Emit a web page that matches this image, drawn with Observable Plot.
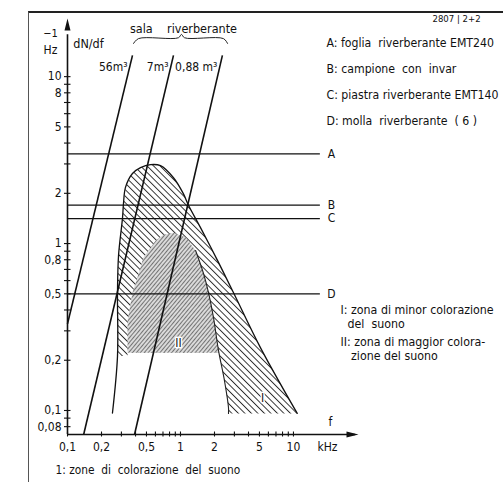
<!DOCTYPE html>
<html>
<head>
<meta charset="utf-8">
<script src="https://cdn.jsdelivr.net/npm/d3@7"></script>
<script src="https://cdn.jsdelivr.net/npm/@observablehq/plot@0.6"></script>
<style>
  body { margin: 0; background: white; }
  #wrap { position: relative; width: 503px; height: 482px; overflow: hidden; background: white; }
  #frame { position: absolute; left: 28px; top: 11px; right: -5px; bottom: -5px;
           border-top: 2px solid #222; border-left: 1.5px solid #555; }
  #chart { position: absolute; left: 0; top: 0; }
</style>
</head>
<body>
<div id="wrap"><div id="frame"></div><div id="chart"></div></div>
<script>
// ---- axis ticks / labels ----
const xTicks = [0.1,0.2,0.3,0.4,0.5,0.6,0.7,0.8,0.9,1,2,3,4,5,6,7,8,9,10];
const xTickLabels = [0.1,0.2,0.5,1,2,5,10];
const yTicks = [0.08,0.09,0.1,0.2,0.3,0.4,0.5,0.6,0.7,0.8,0.9,1,2,3,4,5,6,7,8,9,10];
const yTickLabels = [10,8,5,2,1,0.8,0.5,0.2,0.1,0.08];

// ---- reference devices (horizontal lines) ----
const refNames = ["A","B","C","D"];
const refValues = [3.45, 1.70, 1.41, 0.5];
const legendTexts = [
  "A: foglia  riverberante EMT240",
  "B: campione  con  invar",
  "C: piastra riverberante EMT140",
  "D: molla  riverberante  ( 6 )"
];

// ---- room lines (dN/df for rooms) ----
const roomNames = ["56m³", "7m³", "0,88 m³"];
const roomF0 = [0.1, 0.139, 0.392];
const roomD0 = [0.33, 0.0718, 0.0718];
const roomF1 = [0.376, 0.867, 2.35];
const roomD1 = [13.4, 13.4, 13.4];

// ---- zone I outer boundary ----
const zoneIOuterF = [0.25, 0.277, 0.277, 0.283, 0.307, 0.313, 0.326, 0.376, 0.443, 0.543, 0.665, 0.867, 1.06, 1.18, 1.50, 2.13, 2.94, 5.10, 10.8];
const zoneIOuterD = [0.0966, 0.211, 0.51, 0.85, 1.43, 1.74, 2.17, 2.63, 2.85, 2.97, 2.93, 2.48, 1.99, 1.69, 1.25, 0.79, 0.509, 0.238, 0.096];
// inner boundary of lower part of zone I (continuation of zone II right edge)
const zoneIInnerF = [1.36, 1.60, 1.77, 1.96, 2.17, 2.45, 2.66, 2.66];
const zoneIInnerD = [0.908, 0.661, 0.509, 0.36, 0.229, 0.151, 0.104, 0.096];
// ---- zone II ----
const zoneIIF = [0.340, 0.340, 0.376, 0.416, 0.470, 0.601, 0.707, 0.867, 1.11, 1.36, 1.60, 1.77, 1.96, 2.17, 2.2];
const zoneIID = [0.222, 0.346, 0.509, 0.626, 0.824, 1.04, 1.13, 1.16, 1.09, 0.908, 0.661, 0.509, 0.36, 0.229, 0.222];

// bracket over "sala riverberante"
const braceF = [0.384, 0.425, 0.96, 1.02, 1.085, 2.40, 2.61];
const braceD = [15.8, 16.9, 17.1, 17.9, 17.1, 16.9, 15.8];

const zip = (fs, ds) => fs.map((f, i) => ({f, d: ds[i]}));
const fmt = v => String(v).replace(".", ",");

const zoneIPoly = [
  ...zip(zoneIOuterF.slice(1), zoneIOuterD.slice(1)),
  ...zip(zoneIInnerF.slice(4).reverse(), zoneIInnerD.slice(4).reverse()),
  {f: 2.2, d: 0.222}, {f: 0.34, d: 0.222}, {f: 0.34, d: 0.213}, {f: 0.277, d: 0.211}
];
const zoneII = zip(zoneIIF, zoneIID);
const refs = refNames.map((n, i) => ({n, v: refValues[i]}));
const rooms = roomNames.map((n, i) => ({n, f0: roomF0[i], d0: roomD0[i], f1: roomF1[i], d1: roomD1[i]}));

const xMin = 0.1, xMax = 39.2, yMin = 0.0718, yMax = 22.3;
const refEnd = 17.3, refLabelX = 21.7;

const hDash = {draw(ctx) { ctx.moveTo(-3.5, 0); ctx.lineTo(3, 0); }};
const vDash = {draw(ctx) { ctx.moveTo(0, -3); ctx.lineTo(0, 2); }};
const arrowUp = {draw(ctx) { ctx.moveTo(0, 0); ctx.lineTo(3, 12); ctx.lineTo(-3, 12); ctx.closePath(); }};
const arrowRight = {draw(ctx) { ctx.moveTo(0, 0); ctx.lineTo(-12, -3); ctx.lineTo(-12, 3); ctx.closePath(); }};

const font = "'DejaVu Sans Condensed', 'Liberation Sans Narrow', sans-serif";
const TL = {frameAnchor: "top-left", lineAnchor: "middle", fill: "#111"};

const chart = Plot.plot({
  width: 503, height: 482,
  marginLeft: 67, marginRight: 143, marginTop: 18, marginBottom: 48,
  x: {type: "log", domain: [xMin, xMax], axis: null},
  y: {type: "log", domain: [yMin, yMax], axis: null},
  style: {fontFamily: font, fontSize: "11px", background: "transparent", overflow: "visible"},
  marks: [
    // zones
    Plot.line(zoneIPoly, {x: "f", y: "d", fill: "url(#hatchI)", stroke: "none"}),
    Plot.line(zoneII, {x: "f", y: "d", fill: "url(#hatchII)", stroke: "none"}),
    Plot.line(zip(zoneIOuterF, zoneIOuterD), {x: "f", y: "d", stroke: "#111", strokeWidth: 1.3, curve: "catmull-rom"}),
    Plot.line(zip(zoneIInnerF, zoneIInnerD), {x: "f", y: "d", stroke: "#222", strokeWidth: 1.1, curve: "catmull-rom"}),
    // reference horizontal lines
    Plot.ruleY(refs, {y: "v", x1: xMin, x2: refEnd, stroke: "#111", strokeWidth: 1.3}),
    Plot.text(refs, {y: "v", x: refLabelX, text: "n", textAnchor: "middle", fontSize: 12, fill: "#111"}),
    // room lines
    Plot.link(rooms, {x1: "f0", y1: "d0", x2: "f1", y2: "d1", stroke: "#111", strokeWidth: 1.6}),
    Plot.text(rooms, {x: "f1", y: "d1", text: "n", textAnchor: "end", dx: -5, dy: 12, fontSize: 12, fill: "#111"}),
    // bracket and title
    Plot.line(zip(braceF, braceD), {x: "f", y: "d", stroke: "#222", strokeWidth: 1, curve: "catmull-rom"}),
    Plot.text(["sala    riverberante"], {...TL, dx: 116, dy: 10, textAnchor: "middle", fontSize: 12.5}),
    // axes
    Plot.ruleX([xMin], {y1: yMin, y2: yMax * 0.8, stroke: "#111", strokeWidth: 1.6}),
    Plot.ruleY([yMin], {x1: xMin, x2: xMax * 0.9, stroke: "#111", strokeWidth: 1.6}),
    Plot.dot([yMax], {x: xMin, y: d => d, symbol: arrowUp, fill: "#111", stroke: "none"}),
    Plot.dot([xMax * 0.96], {x: d => d, y: yMin, symbol: arrowRight, fill: "#111", stroke: "none"}),
    Plot.dot(yTicks, {x: xMin, y: d => d, symbol: hDash, stroke: "#111", strokeWidth: 1.1, fill: "none"}),
    Plot.dot(xTicks, {x: d => d, y: yMin, symbol: vDash, stroke: "#111", strokeWidth: 1.1, fill: "none"}),
    Plot.text(yTickLabels, {x: xMin, y: d => d, text: fmt, textAnchor: "end", dx: -6, fontSize: 12, fill: "#111"}),
    Plot.text(xTickLabels, {x: d => d, y: yMin, text: fmt, textAnchor: "middle", dy: 13, fontSize: 12, fill: "#111"}),
    // axis titles
    Plot.text(["−1"], {...TL, dx: -17, dy: 15, textAnchor: "middle", fontSize: 11}),
    Plot.text(["Hz"], {...TL, dx: -17, dy: 32, textAnchor: "middle", fontSize: 12}),
    Plot.text(["dN/df"], {...TL, dx: 21, dy: 25, textAnchor: "middle", fontSize: 12.5}),
    Plot.text(["f"], {...TL, dx: 263, dy: 404, textAnchor: "middle", fontSize: 12}),
    Plot.text(["kHz"], {...TL, dx: 260, dy: 429, textAnchor: "middle", fontSize: 12}),
    // zone labels
    Plot.text(["II"], {x: 0.96, y: 0.252, text: d => d, fontSize: 12, fill: "#111", stroke: "white", strokeWidth: 3}),
    Plot.text(["I"], {x: 5.32, y: 0.118, text: d => d, fontSize: 12, fill: "#111", stroke: "white", strokeWidth: 3}),
    // figure id and legend
    Plot.text(["2807 | 2+2"], {...TL, dx: 365, dy: 0, textAnchor: "start", fontSize: 9.5}),
    ...legendTexts.map((t, i) => Plot.text([t], {...TL, dx: 259, dy: 25 + 26 * i, textAnchor: "start", fontSize: 12.2})),
    Plot.text(["I: zona di minor colorazione\n  del  suono"], {...TL, dx: 273, dy: 298, textAnchor: "start", fontSize: 12.3, lineHeight: 1.1}),
    Plot.text(["II: zona di maggior colora-\n   zione del suono"], {...TL, dx: 273, dy: 330, textAnchor: "start", fontSize: 12.3, lineHeight: 1.1}),
    Plot.text(["1: zone  di  colorazione  del  suono"], {...TL, dx: -12, dy: 452, textAnchor: "start", fontSize: 11.8})
  ]
});

const svgNS = "http://www.w3.org/2000/svg";
const svg = chart.tagName.toLowerCase() === "svg" ? chart : chart.querySelector("svg");
const defs = document.createElementNS(svgNS, "defs");
defs.innerHTML = `
  <pattern id="hatchI" patternUnits="userSpaceOnUse" width="4.6" height="4.6" patternTransform="rotate(-45)">
    <rect width="4.6" height="4.6" fill="white"/>
    <line x1="0.5" y1="0" x2="0.5" y2="4.6" stroke="#222" stroke-width="0.9"/>
  </pattern>
  <pattern id="hatchII" patternUnits="userSpaceOnUse" width="3" height="3" patternTransform="rotate(40)">
    <rect width="3" height="3" fill="#dadada"/>
    <line x1="0.5" y1="0" x2="0.5" y2="3" stroke="#5a5a5a" stroke-width="0.8"/>
  </pattern>`;
svg.insertBefore(defs, svg.firstChild);
document.getElementById("chart").appendChild(chart);
</script>
</body>
</html>
